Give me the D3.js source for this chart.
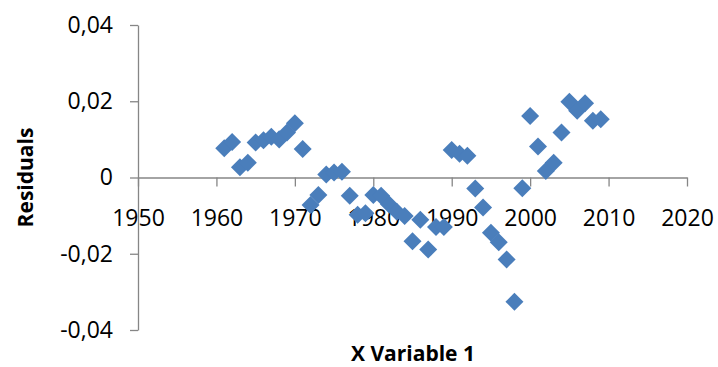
<!DOCTYPE html>
<html>
<head>
<meta charset="utf-8">
<script src="https://cdn.jsdelivr.net/npm/d3@7"></script>
<style>
  html, body { margin: 0; padding: 0; background: #fff; }
  svg { display: block; }
</style>
</head>
<body>
<svg id="chart" width="718" height="367"></svg>
<script>
const years = [1961,1962,1963,1964,1965,1966,1967,1968,1969,1970,
  1971,1972,1973,1974,1975,1976,1977,1978,1979,1980,
  1981,1982,1983,1984,1985,1986,1987,1988,1989,1990,
  1991,1992,1993,1994,1995,1996,1997,1998,1999,2000,
  2001,2002,2003,2004,2005,2006,2007,2008,2009];
const residuals = [0.0077,0.0093,0.0027,0.0039,0.0092,0.0098,0.0107,0.0100,0.0118,0.0142,
  0.0075,-0.0072,-0.0046,0.0008,0.0013,0.0015,-0.0048,-0.0098,-0.0094,-0.0046,
  -0.0048,-0.0070,-0.0090,-0.0101,-0.0167,-0.0111,-0.0189,-0.0130,-0.0130,0.0072,
  0.0062,0.0057,-0.0029,-0.0079,-0.0145,-0.0170,-0.0215,-0.0326,-0.0028,0.0161,
  0.0081,0.0017,0.0039,0.0118,0.0199,0.0175,0.0195,0.0149,0.0153];
const xTicks = [1950,1960,1970,1980,1990,2000,2010,2020];
const yTicks = [-0.04,-0.02,0,0.02,0.04];
const xTitle = "X Variable 1";
const yTitle = "Residuals";

const svg = d3.select("#chart");
const x = d3.scaleLinear().domain([1950, 2020]).range([138, 687]);
const y = d3.scaleLinear().domain([-0.04, 0.04]).range([330, 25]);

const axisColor = "#868686";
const fontFam = "'Open Sans', 'Liberation Sans', sans-serif";
const locale = d3.formatLocale({decimal: ",", thousands: ".", grouping: [3], currency: ["", ""], minus: "-"});
const fmt = locale.format(".2f");

// Y axis
const yAxis = d3.axisLeft(y)
  .tickValues(yTicks)
  .tickSize(8).tickSizeOuter(0).tickPadding(17)
  .tickFormat(d => d === 0 ? "0" : fmt(d));
const gy = svg.append("g").attr("transform", `translate(${x(1950)},0)`).call(yAxis);

// X axis at y=0
const xAxis = d3.axisBottom(x)
  .tickValues(xTicks)
  .tickSize(9).tickSizeOuter(0).tickPadding(23)
  .tickFormat(d3.format("d"));
const gx = svg.append("g").attr("transform", `translate(0,${y(0)})`).call(xAxis);

[gx, gy].forEach(g => {
  g.selectAll("path.domain").attr("stroke", axisColor).attr("stroke-width", 1.3);
  g.selectAll(".tick line").attr("stroke", axisColor).attr("stroke-width", 1.3);
  g.selectAll(".tick text").attr("fill", "#000")
    .style("font-family", fontFam).style("font-size", "23px");
});

// Points
const sym = d3.symbol().type(d3.symbolSquare).size(162);
svg.append("g").selectAll("path.pt")
  .data(years.map((yr, i) => ({ yr, r: residuals[i] })))
  .join("path")
  .attr("class", "pt")
  .attr("d", sym)
  .attr("transform", d => `translate(${x(d.yr)},${y(d.r)}) rotate(45)`)
  .attr("fill", "#4A7EBB");

// Titles
svg.append("text")
  .attr("x", 413).attr("y", 361)
  .attr("text-anchor", "middle")
  .style("font-family", fontFam).style("font-size", "21px").style("font-weight", "bold")
  .text(xTitle);

svg.append("text")
  .attr("transform", `translate(33,${y(0)}) rotate(-90)`)
  .attr("text-anchor", "middle")
  .style("font-family", fontFam).style("font-size", "21px").style("font-weight", "bold")
  .text(yTitle);
</script>
</body>
</html>
